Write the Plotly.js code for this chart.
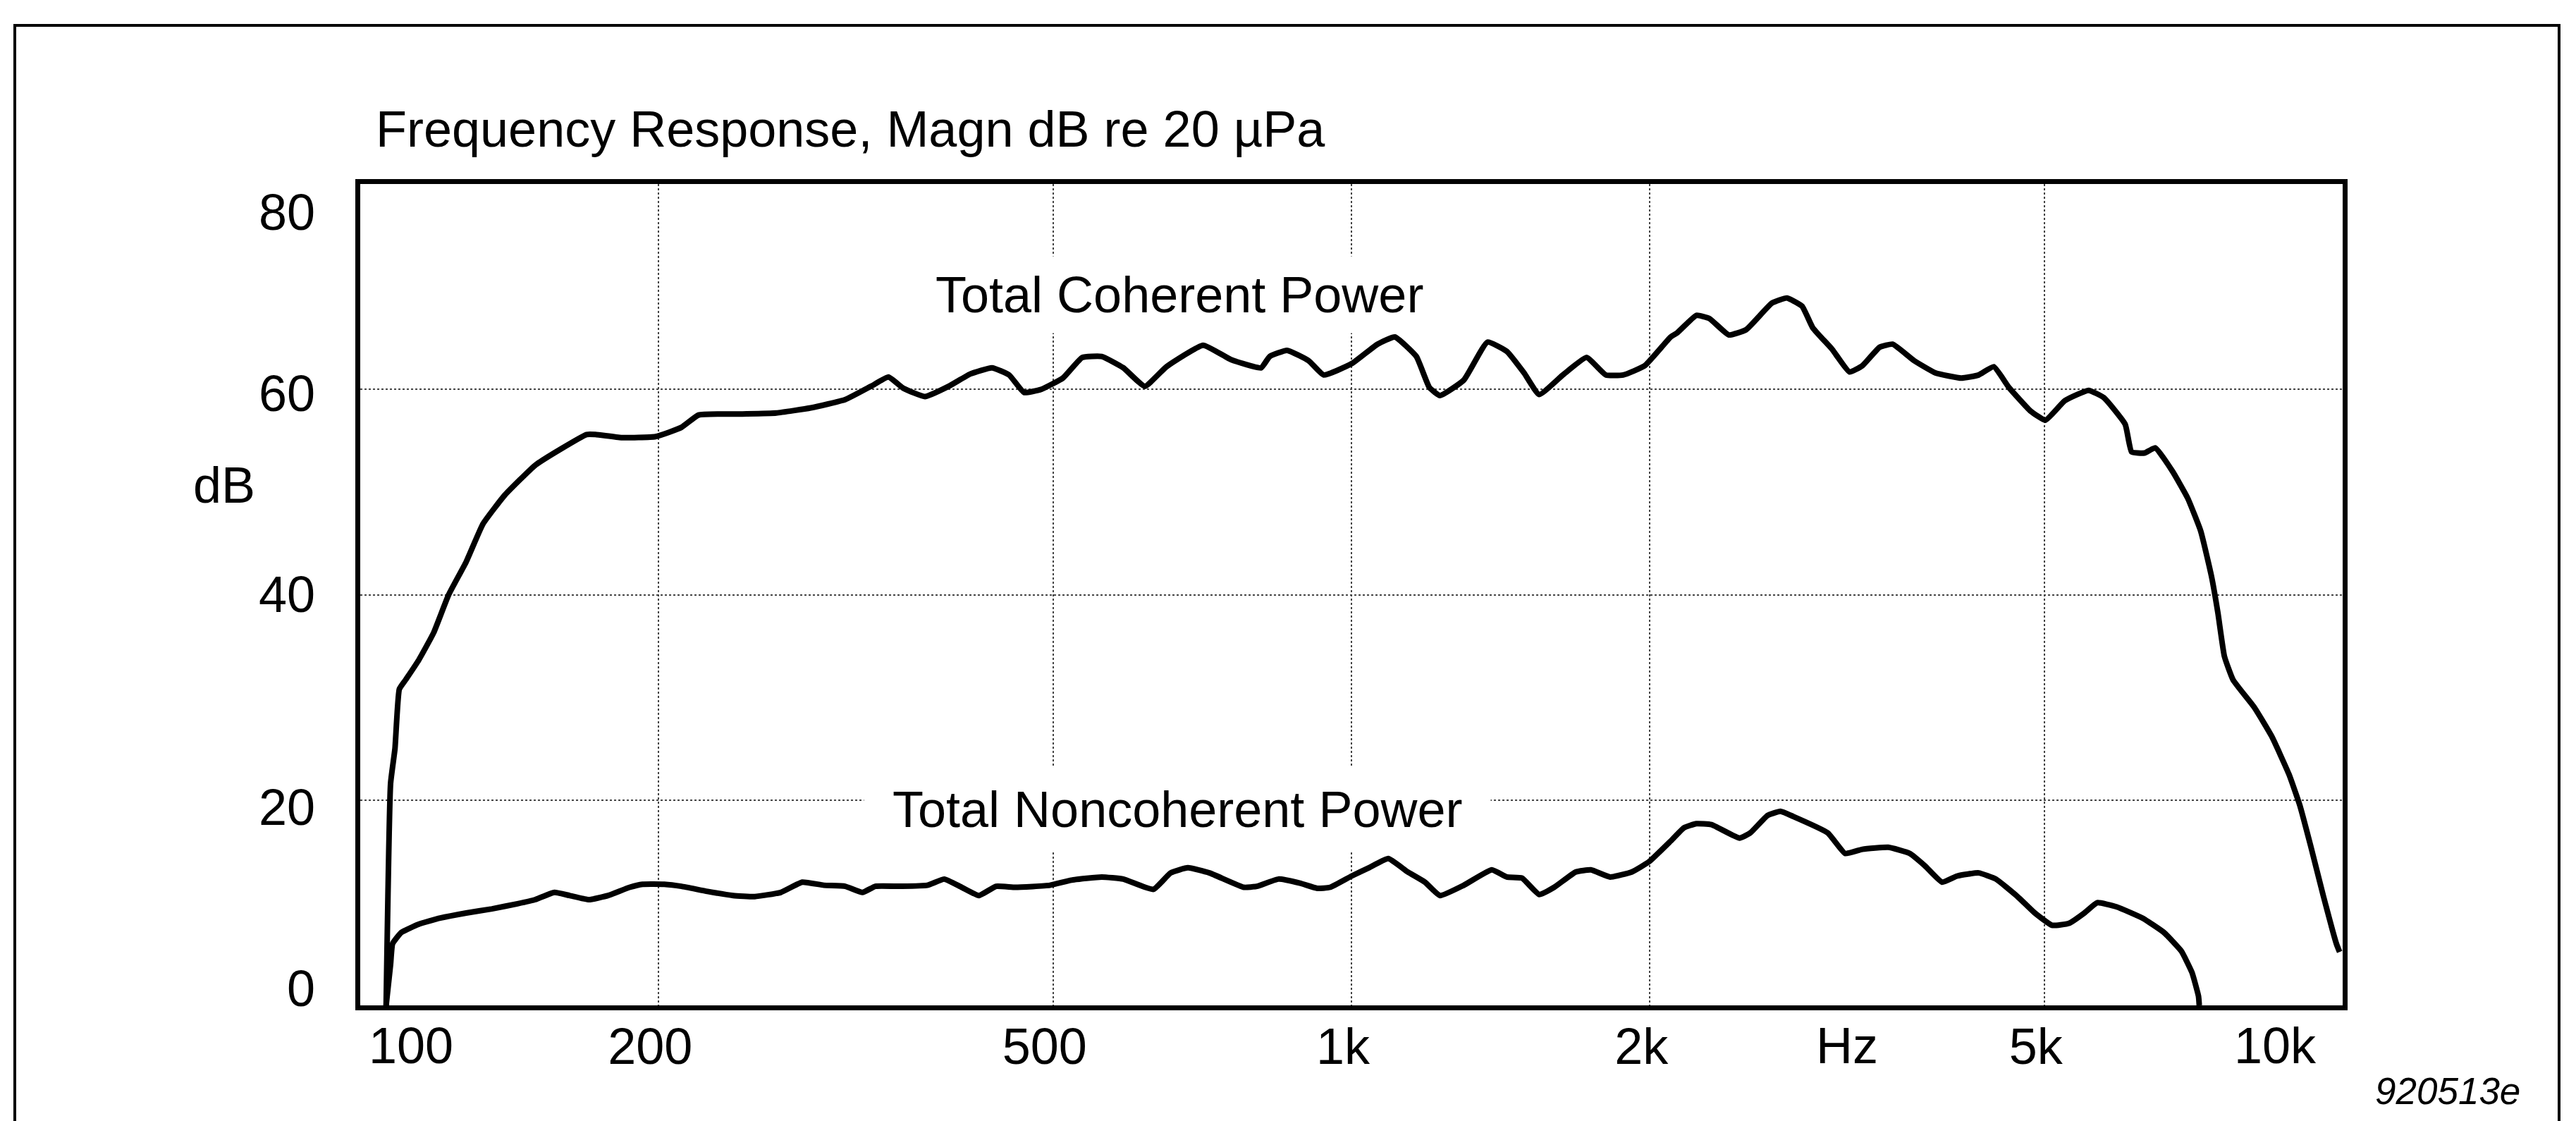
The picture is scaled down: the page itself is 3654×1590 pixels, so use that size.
<!DOCTYPE html>
<html>
<head>
<meta charset="utf-8">
<script src="https://cdn.plot.ly/plotly-3.0.1.min.js"></script>
<style>
html,body{margin:0;padding:0;background:#fff;}
#chart{width:3654px;height:1590px;}
</style>
</head>
<body>
<div id="chart"></div>
<script>
// ---- Data ----
const coherentFreq = [106.2,107.3,108.4,109.5,111.1,114.5,118.6,122.8,127.9,133.0,139.9,150.1,159.4,169.2,172.7,183.4,198.6,210.9,219.5,242.7,262.9,284.8,308.5,327.6,341.1,353.2,371.3,392.4,412.6,433.8,451.5,467.4,486.5,511.5,535.0,559.8,588.6,618.8,650.6,708.5,755.7,810.6,827.0,861.0,905.1,937.6,1000.5,1062.4,1106,1162.8,1198.2,1228.5,1298.2,1371.6,1434.6,1493.2,1546.7,1634,1726.6,1805.9,1879.8,1976.4,2099,2131.2,2228.6,2296.6,2402.8,2500.6,2655.8,2750.3,2848.4,2920.2,3054.9,3180,3276.8,3411,3515.4,3694.7,3884.1,4124.4,4293.2,4446.6,4604.6,4841.7,5014,5245.3,5541.9,5741,6034,6125,6311,6472,6737,6977,7191,7373,7485,7598,7753,8148,8481,8828,9052,9280,9565,9856,9930];
const coherentDb   = [0,21.6,25.0,30.8,31.7,33.6,36.3,40.0,43.2,46.9,49.7,52.6,54.2,55.6,55.6,55.3,55.4,56.3,57.5,57.6,57.7,58.2,59.0,60.3,61.2,60.1,59.3,60.3,61.5,62.1,61.4,59.7,60.0,61.1,63.1,63.2,62.1,60.3,62.2,64.3,62.9,62.1,63.2,63.8,62.8,61.4,62.5,64.4,65.1,63.2,60.2,59.4,60.9,64.6,63.7,61.6,59.5,61.4,63.1,61.4,61.4,62.3,65.1,65.5,67.2,66.9,65.3,65.8,68.4,68.9,68.1,66.0,63.9,61.7,62.3,64.1,64.4,62.8,61.6,61.1,61.4,62.2,60.2,57.9,57.0,58.9,59.9,59.2,56.6,53.9,53.8,54.3,52.0,49.4,46.2,41.8,38.2,34.0,31.7,29.0,26.2,22.5,19.5,15.6,10.6,6.0,5.2];

const noncoherentFreq = [106.2,107.3,107.8,110.0,114.5,120.4,127.9,135.8,144.1,150.1,157.0,162.6,170.1,177.9,187.0,192.7,202.6,210.9,224.0,237.8,250.0,265.6,279.2,293.5,308.5,321.1,330.9,351.6,373.3,388.5,404.4,420.9,438.1,458.1,496.4,521.9,559.8,588.6,631.2,657.0,683.9,719.0,779.0,802.7,843.9,887.2,923.5,951.7,1000.5,1041.3,1089.2,1139.5,1186.2,1228.5,1298.2,1385.4,1434.6,1485.9,1546.7,1601.5,1684,1744.3,1824.4,1918.3,1996.7,2099,2165,2228.6,2308,2463,2526,2629,2709,2791,3024,3148,3276.8,3480,3658,3789,3944,4085,4293.2,4469,4699,4891,5090,5298,5488,5655,5915,6282,6603,6873,7047,7154,7167];
const noncoherentDb   = [0,4.0,6.0,7.1,7.9,8.5,9.0,9.4,9.9,10.3,11.0,10.7,10.3,10.7,11.5,11.8,11.8,11.6,11.1,10.7,10.6,11.0,12.0,11.7,11.6,11.0,11.6,11.6,11.7,12.3,11.5,10.7,11.6,11.5,11.7,12.2,12.5,12.3,11.3,12.9,13.4,12.9,11.5,11.6,12.3,11.9,11.4,11.5,12.6,13.4,14.3,13.0,12.0,10.7,11.7,13.2,12.5,12.4,10.8,11.5,13.0,13.2,12.5,13.0,14.0,16.0,17.3,17.7,17.6,16.3,16.8,18.5,18.9,18.4,16.8,14.8,15.2,15.4,14.8,13.6,12.0,12.6,12.9,12.3,10.6,9.0,7.8,8.0,9.0,10.0,9.6,8.5,7.1,5.3,3.2,0.9,0];

const xGridVals   = [200, 500, 1000, 2000, 5000];
const xGridLabels = ['200', '500', '1k', '2k', '5k'];
const yGridVals   = [20, 40, 60];
const yTickLabels = ['80', '60', '40', '20', '0'];
const extraXLabels = ['100', 'Hz', '10k'];
const titleText = 'Frequency Response, Magn dB re 20 µPa';
const seriesNames = ['Total Coherent Power', 'Total Noncoherent Power'];
const figureCode = '920513e';

// ---- Layout geometry (pixels) ----
const L = 511, R = 3323, T = 261, B = 1426;
const W = R - L, H = B - T;
const px = X => (X - L) / W;
const py = Y => (B - Y) / H;

const FONT = 'Liberation Sans, Arial, Helvetica, sans-serif';
const fs = 72;

const traces = [
  {x: coherentFreq, y: coherentDb, type: 'scatter', mode: 'lines', name: seriesNames[0],
   line: {color: '#000', width: 8, shape: 'spline', smoothing: 0.4}, hoverinfo: 'skip'},
  {x: noncoherentFreq, y: noncoherentDb, type: 'scatter', mode: 'lines', name: seriesNames[1],
   line: {color: '#000', width: 8, shape: 'spline', smoothing: 0.4}, hoverinfo: 'skip'}
];

function ann(text, X, Y, opts) {
  return Object.assign({
    text: text, xref: 'paper', yref: 'paper', x: px(X), y: py(Y),
    xanchor: 'center', yanchor: 'middle', showarrow: false,
    font: {family: FONT, size: fs, color: '#000'}
  }, opts || {});
}

const yLabelPos = [301, 558, 843, 1145, 1402];
const annotations = [
  ann(titleText, 531, 183, {xanchor: 'left'}),
  ann('dB', 318, 688),
  ...yTickLabels.map((t, i) => ann(t, 449, yLabelPos[i], {xanchor: 'right'})),
  ann(extraXLabels[0], 583, 1483),
  ann(extraXLabels[1], 2620, 1483),
  ann(extraXLabels[2], 3227, 1483),
  ann(seriesNames[0], 1673, 418, {bgcolor: '#fff', borderpad: 14}),
  ann('\u00a0' + seriesNames[1] + '\u00a0', 1670, 1148, {bgcolor: '#fff', borderpad: 20}),
  ann(figureCode, 3472, 1547, {font: {family: FONT, size: 53, color: '#000', style: 'italic'}})
];

const shapes = [
  {type: 'path', xref: 'paper', yref: 'paper',
   path: 'M ' + px(21) + ' ' + py(1650) + ' L ' + px(21) + ' ' + py(36) +
         ' L ' + px(3630) + ' ' + py(36) + ' L ' + px(3630) + ' ' + py(1650),
   line: {color: '#000', width: 4}}
];

const layout = {
  width: 3654, height: 1590,
  margin: {l: L, r: 3654 - R, t: T, b: 1590 - B, pad: 0},
  paper_bgcolor: '#fff', plot_bgcolor: '#fff',
  showlegend: false,
  xaxis: {
    type: 'log', range: [2, 4], autorange: false,
    tickmode: 'array', tickvals: xGridVals, ticktext: xGridLabels,
    showgrid: true, gridcolor: '#444', gridwidth: 2, griddash: 'dot',
    showline: true, mirror: true, linecolor: '#000', linewidth: 7,
    ticks: '', ticklabelshift: -12, ticklabelstandoff: -10,
    tickfont: {family: FONT, size: fs, color: '#000'},
    zeroline: false, fixedrange: true
  },
  yaxis: {
    range: [0, 80], autorange: false,
    tickmode: 'array', tickvals: yGridVals, showticklabels: false,
    showgrid: true, gridcolor: '#444', gridwidth: 2, griddash: 'dot',
    showline: true, mirror: true, linecolor: '#000', linewidth: 7,
    ticks: '', zeroline: false, fixedrange: true
  },
  annotations: annotations,
  shapes: shapes
};

Plotly.newPlot('chart', traces, layout, {staticPlot: true, displayModeBar: false});
</script>
</body>
</html>
